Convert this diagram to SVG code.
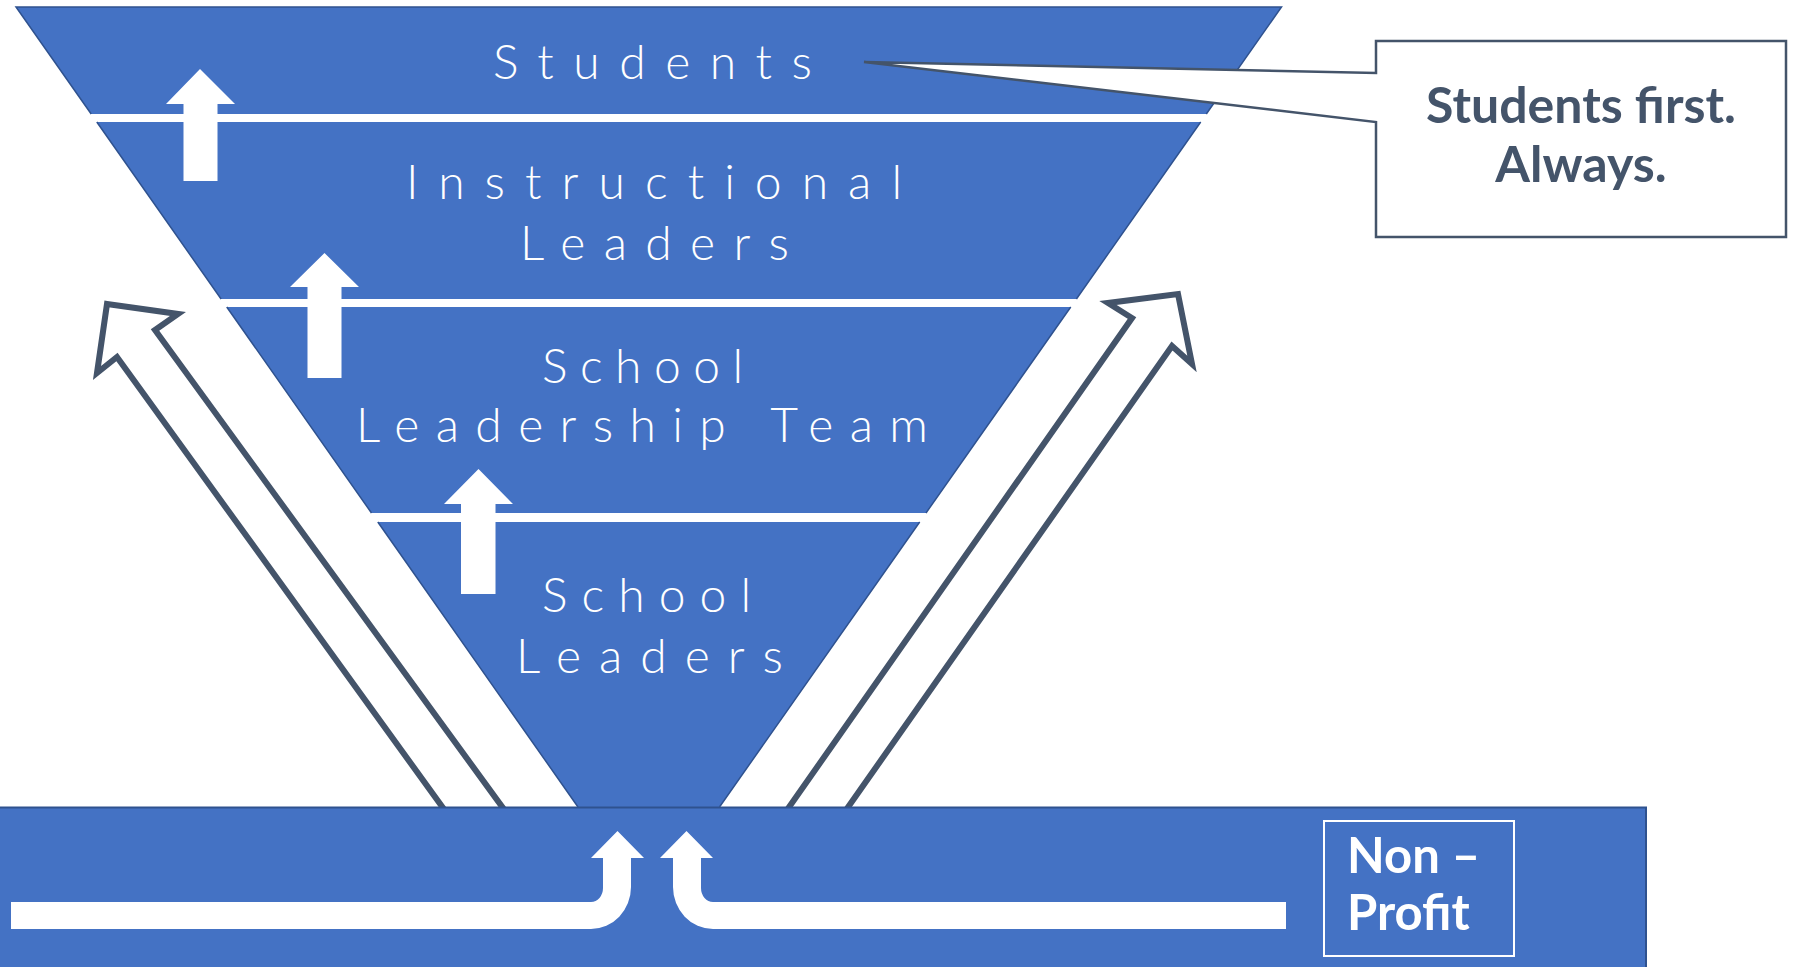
<svg xmlns="http://www.w3.org/2000/svg" width="1793" height="967" viewBox="0 0 1793 967">
  <style>
    .band { fill: #4472C4; }
    .edge { fill: none; stroke: #2F528F; stroke-width: 1.5; }
    .hand { font-family: Lato, "Noto Sans", sans-serif; font-weight: 300; font-size: 48px; fill: #FFFFFF; font-variant-ligatures: none; }
    .bold { font-family: Lato, "Liberation Sans", sans-serif; font-weight: 700; font-size: 49px; }
    .callout-text { font-size: 50px; }
    .uparrow { fill: #FFFFFF; }
    .bigarrow { fill: #FFFFFF; stroke: #44546A; stroke-width: 6; stroke-linejoin: miter; }
  </style>
  <rect x="0" y="0" width="1793" height="967" fill="#FFFFFF"/>

  <g id="connectors">
    <polygon class="bigarrow" points="107,304 178,314 155,330 519,830 459,830 117,357 97,373"/>
    <polygon class="bigarrow" points="1178,294 1192,364 1172,346 832,830 773,830 1132,318 1108,303"/>
  </g>

  <g id="funnel">
    <g id="band-students">
      <polygon class="band" points="16,7 1281.5,7 1206.3,114 91.2,114"/>
      <text class="hand" x="493" y="79" textLength="319" lengthAdjust="spacing">Students</text>
    </g>
    <g id="band-instructional">
      <polygon class="band" points="96.8,122 1200.7,122 1076.4,299 221.1,299"/>
      <text class="hand" x="406" y="199" textLength="496" lengthAdjust="spacing">Instructional</text>
      <text class="hand" x="520" y="260" textLength="269" lengthAdjust="spacing">Leaders</text>
    </g>
    <g id="band-slt">
      <polygon class="band" points="226.75,307 1070.75,307 926,513 371.5,513"/>
      <text class="hand" x="542" y="383" textLength="201" lengthAdjust="spacing">School</text>
      <text class="hand" x="356" y="442" textLength="572" lengthAdjust="spacing">Leadership Team</text>
    </g>
    <g id="band-school-leaders">
      <polygon class="band" points="377.8,522 919.7,522 719.5,807 578,807"/>
      <text class="hand" x="542" y="612" textLength="209" lengthAdjust="spacing">School</text>
      <text class="hand" x="516" y="673" textLength="267" lengthAdjust="spacing">Leaders</text>
    </g>
    <path class="edge" d="M91.2,114 L16,7 L1281.5,7 L1206.3,114 M96.8,122 L221.1,299 M1200.7,122 L1076.4,299 M226.75,307 L371.5,513 M1070.75,307 L926,513 M377.8,522 L578,807 M919.7,522 L719.5,807"/>
  </g>

  <g id="up-arrows">
    <polygon class="uparrow" points="200,69 235,104 217.5,104 217.5,181 183.5,181 183.5,104 166,104"/>
    <polygon class="uparrow" points="324.5,253 359,287 341.5,287 341.5,378 307.5,378 307.5,287 290,287"/>
    <polygon class="uparrow" points="478.5,469 513,504 495.5,504 495.5,594 461,594 461,504 444,504"/>
  </g>

  <g id="callout">
    <path d="M1376,41 L1786,41 L1786,237 L1376,237 L1376,122 L864,62 L1376,73 Z" fill="#FFFFFF" stroke="#44546A" stroke-width="2.5" stroke-linejoin="miter"/>
    <text class="bold callout-text" x="1581" y="123" text-anchor="middle" fill="#44546A">Students first.</text>
    <text class="bold callout-text" x="1581" y="182" text-anchor="middle" fill="#44546A">Always.</text>
  </g>

  <g id="nonprofit-base">
    <rect x="-2" y="807.5" width="1648" height="170" fill="#4472C4" stroke="#2F528F" stroke-width="2"/>
    <path class="uparrow" d="M11,902 L591,902 A12,14 0 0 0 603,888 L603,858 L591,858 L617.5,831 L644,858 L631,858 L631,887 A40,42 0 0 1 591,929 L11,929 Z"/>
    <path class="uparrow" d="M1286,902 L713,902 A12,14 0 0 1 701,888 L701,858 L713,858 L686.5,831 L660,858 L673,858 L673,887 A40,42 0 0 0 713,929 L1286,929 Z"/>
    <rect x="1324" y="821" width="190" height="135" fill="none" stroke="#FFFFFF" stroke-width="2"/>
    <text class="bold" x="1347" y="873" fill="#FFFFFF">Non –</text>
    <text class="bold" x="1347" y="930" fill="#FFFFFF">Profit</text>
  </g>
</svg>
